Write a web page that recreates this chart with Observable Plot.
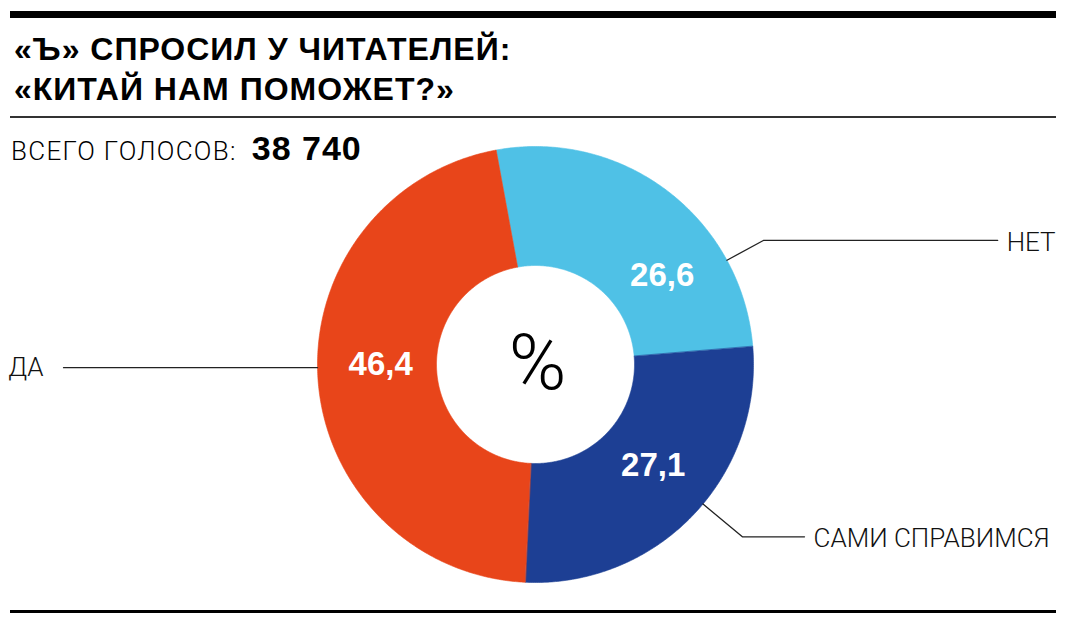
<!DOCTYPE html>
<html><head><meta charset="utf-8">
<script src="https://cdn.jsdelivr.net/npm/d3@7"></script>
<script src="https://cdn.jsdelivr.net/npm/@observablehq/plot@0.6"></script>
<style>
html,body{margin:0;padding:0;background:#fff;}
#wrap{position:relative;width:1065px;height:624px;overflow:hidden;font-family:"Liberation Sans",Arial,sans-serif;color:#000;}
.bar{position:absolute;left:10px;width:1046px;background:#000;}
#title{position:absolute;left:14px;top:29px;font-weight:bold;font-size:32px;letter-spacing:1px;line-height:40px;margin:0;white-space:nowrap;}
#total{position:absolute;left:11px;top:129px;white-space:nowrap;line-height:38px;}
#total .lab{font-family:Roboto,"Liberation Sans",sans-serif;font-weight:300;font-size:26px;letter-spacing:1.3px;}
#total .num{font-weight:bold;font-size:34px;letter-spacing:1px;margin-left:15px;}
#chart{position:absolute;left:0;top:121px;}
</style></head>
<body>
<div id="wrap">
  <div class="bar" style="top:11px;height:7px;"></div>
  <h1 id="title">«Ъ» СПРОСИЛ У ЧИТАТЕЛЕЙ:<br>«КИТАЙ НАМ ПОМОЖЕТ?»</h1>
  <div class="bar" style="top:116px;height:2px;background:#333;"></div>
  <div id="chart"></div>
  <div id="total"><span class="lab">ВСЕГО ГОЛОСОВ:</span><span class="num" id="totalNum"></span></div>
  <div class="bar" style="top:610px;height:3px;"></div>
</div>
<script>
// ---- data ----
const categories = ["НЕТ", "САМИ СПРАВИМСЯ", "ДА"];
const values = [26.6, 27.1, 46.4];
const valueLabels = ["26,6", "27,1", "46,4"];
const totalVotes = "38 740";
const colors = ["#4FC1E6", "#1D3F94", "#E8451A"];

// ---- layout ----
const W = 1065, H = 485, CX = 535, CY = 243, R = 218;
const innerR = 99 / R;
const startDeg = -10.4;
const labelShift = [17.5, -3.5, 3.8];     // deg offset of value labels from slice middle
const labelRadius = 0.71;
const leaderShift = [24, -4.2, 3.0];      // deg offset of leader start from slice middle
const leaderElbow = [1.19, 1.235, 1.0];
const leaderEnd = [2.12, 1.234, -2.165];
const leaderSide = ["right", "right", "left"];
const lightFont = "Roboto, 'Liberation Sans', sans-serif";

document.getElementById("totalNum").textContent = totalVotes;

const rad = d => d * Math.PI / 180;
const arcs = d3.pie().sort(null).value(d => d)
  .startAngle(rad(startDeg)).endAngle(rad(startDeg + 360))(values);

const slicePts = [];
arcs.forEach((a, i) => {
  const n = Math.max(2, Math.ceil((a.endAngle - a.startAngle) / rad(0.5)));
  for (let k = 0; k <= n; k++) {
    const t = a.startAngle + (a.endAngle - a.startAngle) * k / n;
    slicePts.push({cat: categories[i], x: Math.sin(t), y: Math.cos(t)});
  }
  for (let k = n; k >= 0; k--) {
    const t = a.startAngle + (a.endAngle - a.startAngle) * k / n;
    slicePts.push({cat: categories[i], x: innerR * Math.sin(t), y: innerR * Math.cos(t)});
  }
});

const mid = a => (a.startAngle + a.endAngle) / 2;
const valuePts = arcs.map((a, i) => {
  const t = mid(a) + rad(labelShift[i]);
  return {x: labelRadius * Math.sin(t), y: labelRadius * Math.cos(t), text: valueLabels[i]};
});

const leaderPts = [];
const catPts = [];
arcs.forEach((a, i) => {
  const t = mid(a) + rad(leaderShift[i]);
  const e = leaderElbow[i];
  const ey = e * Math.cos(t);
  leaderPts.push({cat: categories[i], x: Math.sin(t), y: Math.cos(t)});
  leaderPts.push({cat: categories[i], x: e * Math.sin(t), y: ey});
  leaderPts.push({cat: categories[i], x: leaderEnd[i], y: ey});
  catPts.push({x: leaderEnd[i], y: ey, text: categories[i], side: leaderSide[i]});
});

const chart = Plot.plot({
  width: W, height: H, margin: 0,
  x: {domain: [-CX / R, (W - CX) / R], axis: null},
  y: {domain: [-(H - CY) / R, CY / R], axis: null},
  color: {domain: categories, range: colors},
  style: {overflow: "visible", background: "transparent"},
  marks: [
    Plot.line(slicePts, {x: "x", y: "y", z: "cat", fill: "cat", stroke: "cat", strokeWidth: 0.6, curve: "linear-closed"}),
    Plot.line(leaderPts, {x: "x", y: "y", z: "cat", stroke: "#222", strokeWidth: 1.3, curve: "linear"}),
    Plot.text(catPts.filter(d => d.side === "right"), {x: "x", y: "y", text: "text", textAnchor: "start", dx: 9, dy: 2,
      fontSize: 26, fontWeight: 300, fontFamily: lightFont, fill: "#111", style: "letter-spacing:0.5px"}),
    Plot.text(catPts.filter(d => d.side === "left"), {x: "x", y: "y", text: "text", textAnchor: "end", dx: -20, dy: 0,
      fontSize: 26, fontWeight: 300, fontFamily: lightFont, fill: "#111", style: "letter-spacing:0.5px"}),
    Plot.text(valuePts, {x: "x", y: "y", text: "text", fill: "white", fontSize: 33, fontWeight: "bold",
      fontFamily: "'Liberation Sans', Arial, sans-serif", style: "letter-spacing:1.5px"}),
    Plot.text([{x: 0, y: 0, text: "%"}], {x: "x", y: "y", text: "text", fill: "#000", fontSize: 78, fontWeight: 300,
      fontFamily: lightFont, dx: 2})
  ]
});
document.getElementById("chart").appendChild(chart);
</script>
</body></html>
